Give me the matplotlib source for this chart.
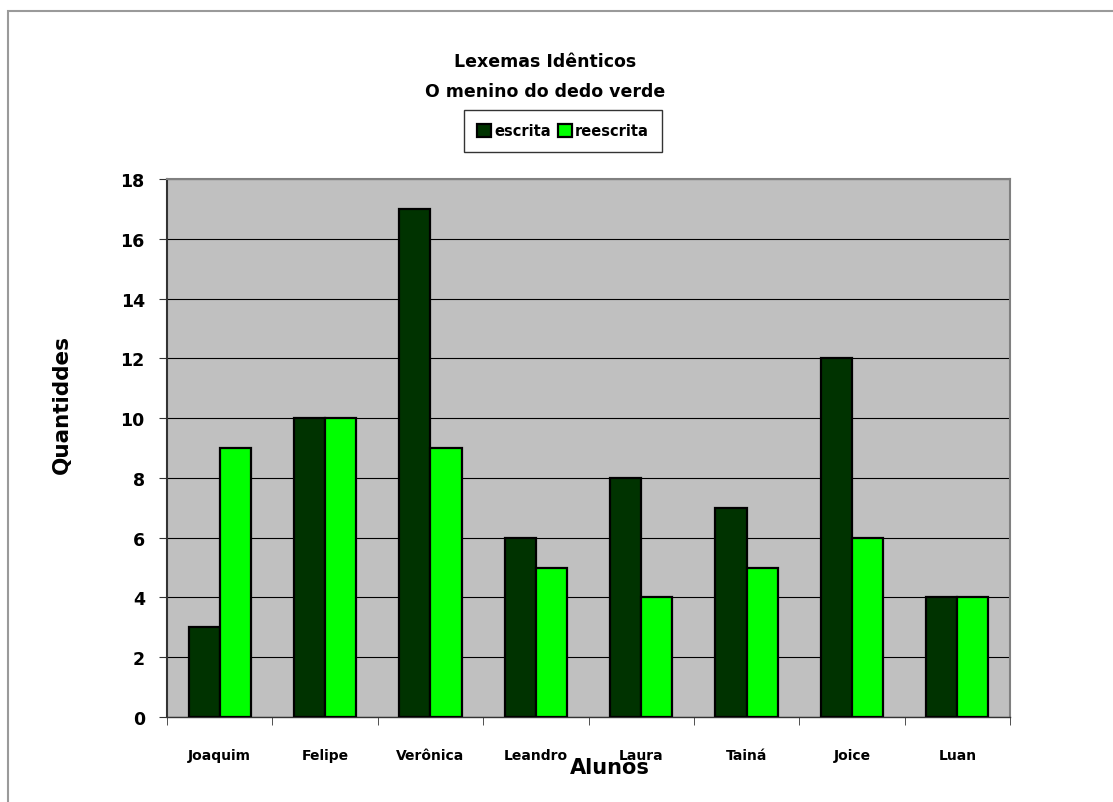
import matplotlib
matplotlib.use("Agg")
import matplotlib.pyplot as plt
import numpy as np
from matplotlib.patches import Rectangle

categories = ["Joaquim", "Felipe", "Verônica", "Leandro", "Laura", "Tainá", "Joice", "Luan"]
escrita = [3, 10, 17, 6, 8, 7, 12, 4]
reescrita = [9, 10, 9, 5, 4, 5, 6, 4]
yticks = [0, 2, 4, 6, 8, 10, 12, 14, 16, 18]

plt.rcParams['font.family'] = ['DejaVu Sans']
plt.rcParams['font.weight'] = 'bold'

W, H = 1113, 803
fig = plt.figure(figsize=(W / 100, H / 100), dpi=100)

# outer frame
fig.patches.append(Rectangle((8 / W, -0.1), 1.2, 1 - 12 / H + 0.1, transform=fig.transFigure,
                             fill=False, edgecolor='#9a9a9a', linewidth=1.5, zorder=0))

ax = fig.add_axes([167 / W, 1 - 718 / H, (1010 - 167) / W, (718 - 180) / H])
ax.set_facecolor('#C0C0C0')
x = np.arange(len(categories))
bw = 0.295
ax.bar(x - bw / 2, escrita, bw, color='#003300', edgecolor='black', linewidth=1.6, label='escrita', zorder=3)
ax.bar(x + bw / 2, reescrita, bw, color='#00FF00', edgecolor='black', linewidth=1.6, label='reescrita', zorder=3)

ax.set_xlim(-0.5, len(categories) - 0.5)
ax.set_ylim(0, 18)
ax.set_yticks(yticks)
ax.set_yticklabels([str(v) for v in yticks], fontsize=12.5, fontweight='bold')
ax.yaxis.grid(True, color='black', linewidth=0.8, zorder=1)
ax.set_axisbelow(True)

ax.set_xticks(x)
ax.set_xticklabels(categories, fontsize=10, fontweight='bold')
ax.tick_params(axis='x', length=0, pad=22)
ax.set_xticks(np.arange(len(categories) + 1) - 0.5, minor=True)
ax.tick_params(axis='x', which='minor', length=6, direction='out', color='#333333')
ax.tick_params(axis='y', length=6, direction='out', color='#333333', pad=10)

for s in ['top', 'right']:
    ax.spines[s].set_color('#808080')
    ax.spines[s].set_linewidth(1.5)
ax.spines['left'].set_color('#333333')
ax.spines['left'].set_linewidth(1.5)
ax.spines['bottom'].set_color('#333333')
ax.spines['bottom'].set_linewidth(1.0)

fig.text(62 / W, 1 - 405 / H, 'Quantiddes', rotation=90, fontsize=15.5, fontweight='bold',
         ha='center', va='center')
fig.text(610 / W, 1 - 768 / H, 'Alunos', fontsize=15, fontweight='bold', ha='center', va='center')

fig.text(545 / W, 1 - 62 / H, 'Lexemas Idênticos', fontsize=12.5, fontweight='bold', ha='center', va='center')
fig.text(545 / W, 1 - 92 / H, 'O menino do dedo verde', fontsize=12.5, fontweight='bold', ha='center', va='center')

leg = fig.legend(loc='center', bbox_to_anchor=(563 / W, 1 - 132 / H), ncol=2, frameon=True,
                 fancybox=False, edgecolor='black', handlelength=0.95, handleheight=0.95,
                 handletextpad=0.2, columnspacing=0.5, borderpad=0.9, prop={'weight': 'bold', 'size': 10.5})
leg.get_frame().set_linewidth(1.0)

fig.savefig('out.png', dpi=100)
